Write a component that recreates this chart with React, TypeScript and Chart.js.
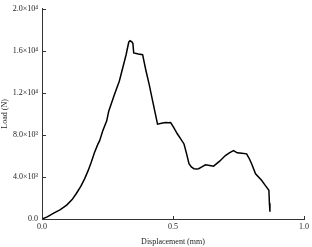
import React, { useEffect, useRef } from "react";
import { Chart, registerables } from "chart.js";

Chart.register(...registerables);

const displacement = [0, 0.02, 0.043, 0.07, 0.094, 0.115, 0.131, 0.148, 0.163, 0.176, 0.188, 0.2, 0.213, 0.22, 0.232, 0.247, 0.255, 0.2765, 0.295, 0.308, 0.321, 0.331, 0.336, 0.343, 0.347, 0.35, 0.368, 0.384, 0.396, 0.409, 0.425, 0.441, 0.456, 0.472, 0.482, 0.491, 0.503, 0.517, 0.53, 0.542, 0.552, 0.561, 0.57, 0.58, 0.59, 0.598, 0.61, 0.624, 0.64, 0.655, 0.678, 0.7, 0.715, 0.731, 0.745, 0.763, 0.781, 0.79, 0.8, 0.815, 0.838, 0.852, 0.866, 0.868, 0.87];
const load = [0, 200, 538, 900, 1321, 1850, 2425, 3100, 3840, 4600, 5406, 6300, 7100, 7453, 8396, 9340, 10283, 11855, 13113, 14368, 15632, 16820, 16953, 16850, 16700, 15800, 15700, 15632, 14200, 12802, 10900, 9028, 9100, 9179, 9150, 9179, 8700, 8085, 7600, 7142, 6200, 5255, 4950, 4783, 4750, 4783, 4950, 5160, 5100, 5028, 5500, 6038, 6300, 6509, 6300, 6255, 6198, 5800, 5255, 4300, 3679, 3200, 2736, 1500, 689];

const yTickLabels: Record<number, string> = {
  0: "0.0",
  4000: "4.0×10³",
  8000: "8.0×10³",
  12000: "1.2×10⁴",
  16000: "1.6×10⁴",
  20000: "2.0×10⁴",
};
const xTickLabels: Record<number, string> = { 0: "0.0", 0.5: "0.5", 1: "1.0" };

const FONT = "'Liberation Serif', 'DejaVu Serif', serif";

const inwardTicks = {
  id: "inwardTicks",
  afterDraw(chart: any) {
    const ctx = chart.ctx;
    const xs = chart.scales.x;
    const ys = chart.scales.y;
    const area = chart.chartArea;
    ctx.save();
    ctx.strokeStyle = "#333";
    ctx.lineWidth = 1;
    ctx.beginPath();
    xs.ticks.forEach((_t: any, i: number) => {
      const px = Math.round(xs.getPixelForTick(i)) + 0.5;
      ctx.moveTo(px, area.bottom);
      ctx.lineTo(px, area.bottom - 3);
    });
    ys.ticks.forEach((_t: any, i: number) => {
      const py = Math.round(ys.getPixelForTick(i)) + 0.5;
      ctx.moveTo(area.left, py);
      ctx.lineTo(area.left + 4, py);
    });
    ctx.stroke();
    ctx.restore();
  },
};

export default function App() {
  const ref = useRef<HTMLCanvasElement>(null);
  useEffect(() => {
    document.body.style.margin = "0";
    const chart = new Chart(ref.current!, {
      type: "line",
      data: {
        datasets: [
          {
            data: displacement.map((x, i) => ({ x, y: load[i] })),
            borderColor: "#000",
            borderWidth: 1.5,
            pointRadius: 0,
            tension: 0,
            fill: false,
          },
        ],
      },
      options: {
        animation: false,
        responsive: false,
        maintainAspectRatio: false,
        layout: { padding: { top: 7, right: 6, left: 0, bottom: 0 } },
        plugins: { legend: { display: false }, tooltip: { enabled: false } },
        scales: {
          x: {
            type: "linear",
            min: 0,
            max: 1,
            afterFit: (s: any) => { s.height = 28; },
            afterBuildTicks: (s: any) => { s.ticks = [0, 0.5, 1].map((v) => ({ value: v })); },
            grid: { display: false, drawTicks: false },
            border: { display: true, color: "#333", width: 1 },
            ticks: {
              padding: 3,
              color: "#222",
              font: { family: FONT, size: 8 },
              callback: (v: any) => xTickLabels[Number(v)] ?? "",
              maxRotation: 0,
            },
            title: {
              display: true,
              text: "Displacement (mm)",
              color: "#222",
              font: { family: FONT, size: 8 },
              padding: { top: 2, bottom: 0 },
            },
          },
          y: {
            type: "linear",
            min: 0,
            max: 20000,
            afterFit: (s: any) => { s.width = 42; },
            afterBuildTicks: (s: any) => { s.ticks = [0, 4000, 8000, 12000, 16000, 20000].map((v) => ({ value: v })); },
            grid: { display: false, drawTicks: false },
            border: { display: true, color: "#333", width: 1 },
            ticks: {
              padding: 4,
              color: "#222",
              font: { family: FONT, size: 8 },
              callback: (v: any) => yTickLabels[Number(v)] ?? "",
            },
            title: {
              display: true,
              text: "Load (N)",
              color: "#222",
              font: { family: FONT, size: 8 },
              padding: { top: 0, bottom: 0 },
            },
          },
        },
      },
      plugins: [inwardTicks],
    } as any);
    return () => chart.destroy();
  }, []);
  return (
    <div style={{ width: 312, height: 247 }}>
      <canvas ref={ref} width={312} height={247} style={{ display: "block" }} />
    </div>
  );
}
